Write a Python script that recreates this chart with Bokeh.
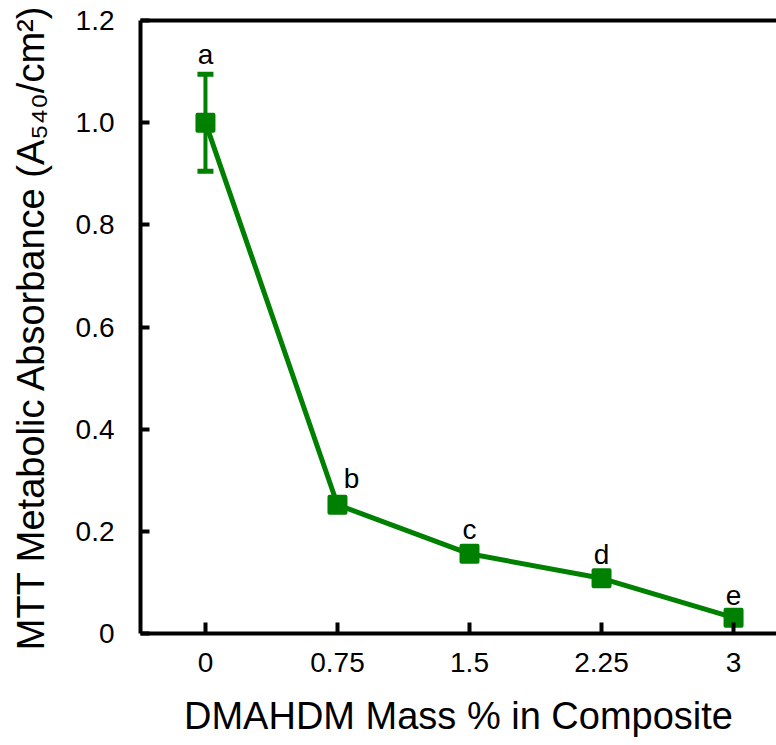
from bokeh.plotting import figure
from bokeh.models import ColumnDataSource, Whisker, TeeHead, LinearAxis, FixedTicker, Range1d
from bokeh.core.properties import value
from bokeh.embed import file_html
from bokeh.resources import INLINE

# ---- data ----
mass_pct = [0, 0.75, 1.5, 2.25, 3]
absorbance = [1.0, 0.252, 0.156, 0.108, 0.031]
abs_err = [0.095, 0.012, 0.008, 0.008, 0.005]
letters = ["a", "b", "c", "d", "e"]
x_ticks = [0, 0.75, 1.5, 2.25, 3]
x_tick_labels = ["0", "0.75", "1.5", "2.25", "3"]
y_ticks = [0, 0.2, 0.4, 0.6, 0.8, 1.0, 1.2]
y_tick_labels = ["0", "0.2", "0.4", "0.6", "0.8", "1.0", "1.2"]

# style-only helpers
label_shift_px = [0, 14, 0, 0, 0]

GREEN = "#008000"
FONT = "Liberation Sans"

src = ColumnDataSource(dict(
    x=mass_pct, y=absorbance,
    lower=[v - e for v, e in zip(absorbance, abs_err)],
    upper=[v + e for v, e in zip(absorbance, abs_err)],
    letter=letters, dx=label_shift_px,
))

p = figure(width=776, height=745, output_backend="svg", toolbar_location=None,
           x_range=Range1d(-0.369, 3.244), y_range=Range1d(0, 1.2),
           min_border_left=140, min_border_right=0, min_border_top=20,
           min_border_bottom=112)
p.outline_line_color = None
p.xgrid.visible = False
p.ygrid.visible = False
p.background_fill_color = "white"
p.border_fill_color = "white"

# line + error bars + markers
p.line("x", "y", source=src, line_color=GREEN, line_width=5)
wh = Whisker(base="x", lower="lower", upper="upper", source=src,
             line_color=GREEN, line_width=4,
             upper_head=TeeHead(size=16, line_color=GREEN, line_width=5),
             lower_head=TeeHead(size=16, line_color=GREEN, line_width=5))
p.add_layout(wh)
p.scatter("x", "y", source=src, marker="square", size=16, fill_color=GREEN,
          line_color=GREEN, line_width=4, line_join="round")

# significance letters
p.text(x="x", y="upper", text="letter", source=src, x_offset="dx", y_offset=-20,
       text_align="center", text_baseline="alphabetic",
       text_font=value(FONT), text_font_size="28px", text_color="black")

# axes
for ax in (p.xaxis[0], p.yaxis[0]):
    ax.axis_line_width = 4
    ax.axis_line_color = "black"
    ax.major_tick_line_width = 4
    ax.major_tick_line_color = "black"
    ax.major_tick_out = 0
    ax.minor_tick_line_color = None
    ax.major_label_text_font = FONT
    ax.major_label_text_font_size = "28px"
    ax.major_label_text_color = "black"
    ax.axis_label_text_font = FONT
    ax.axis_label_text_font_size = "38px"
    ax.axis_label_text_font_style = "normal"
    ax.axis_label_text_color = "black"

p.xaxis.ticker = FixedTicker(ticks=x_ticks)
p.xaxis.major_label_overrides = dict(zip(x_ticks, x_tick_labels))
p.xaxis.major_tick_in = 11
p.xaxis.major_label_standoff = 19
p.xaxis.axis_label = "DMAHDM Mass % in Composite"
p.xaxis.axis_label_standoff = 20

p.yaxis.ticker = FixedTicker(ticks=y_ticks)
p.yaxis.major_label_overrides = dict(zip(y_ticks, y_tick_labels))
p.yaxis.major_tick_in = 9
p.yaxis.major_label_standoff = 26
p.yaxis.axis_label = "MTT Metabolic Absorbance (A\u2085\u2084\u2080/cm\u00b2)"
p.yaxis.axis_label_standoff = 21

top = LinearAxis(ticker=FixedTicker(ticks=[]), axis_line_width=4,
                 axis_line_color="black", major_tick_in=0, major_tick_out=0,
                 minor_tick_in=0, minor_tick_out=0, major_label_text_font_size="0px")
p.add_layout(top, "above")

open("out.html", "w").write(file_html(p, INLINE))
